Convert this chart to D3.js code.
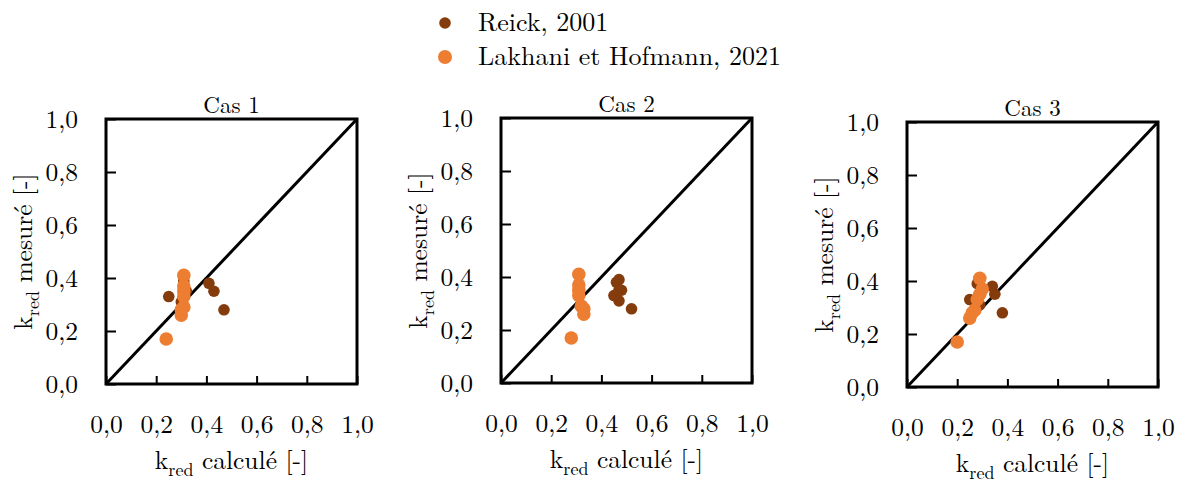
<!DOCTYPE html>
<html>
<head>
<meta charset="utf-8">
<script src="https://d3js.org/d3.v7.min.js"></script>
<style>
  body { margin: 0; background: #fff; }
  svg { font-family: "Latin Modern Roman", "CMU Serif", "Liberation Serif", serif; }
</style>
</head>
<body>
<svg id="chart" width="1181" height="489"></svg>
<script>
// series names and colours
const seriesNames = ['Reick, 2001', 'Lakhani et Hofmann, 2021'];
const seriesColors = ['#843c0c', '#ed7d31'];

// panels
const panelTitles = ['Cas 1', 'Cas 2', 'Cas 3'];
const tickValues = [0, 0.2, 0.4, 0.6, 0.8, 1.0];

// k_red measured (y), shared by all cases
const reickMeasured = [0.39, 0.38, 0.35, 0.35, 0.33, 0.31, 0.28];
const lakhaniMeasured = [0.41, 0.37, 0.35, 0.33, 0.29, 0.28, 0.26, 0.17];

// k_red calculated (x), one list per case
const reickCalc1 = [0.31, 0.41, 0.43, 0.32, 0.25, 0.30, 0.47];
const reickCalc2 = [0.47, 0.46, 0.48, 0.47, 0.45, 0.47, 0.52];
const reickCalc3 = [0.28, 0.34, 0.35, 0.29, 0.25, 0.29, 0.38];

const lakhaniCalc1 = [0.31, 0.31, 0.31, 0.31, 0.31, 0.30, 0.30, 0.24];
const lakhaniCalc2 = [0.31, 0.31, 0.31, 0.31, 0.32, 0.33, 0.33, 0.28];
const lakhaniCalc3 = [0.29, 0.30, 0.29, 0.28, 0.27, 0.26, 0.25, 0.20];

const reickCalc = [reickCalc1, reickCalc2, reickCalc3];
const lakhaniCalc = [lakhaniCalc1, lakhaniCalc2, lakhaniCalc3];

// layout
const panelLeft = [106, 501, 907];
const panelTop = [119, 118, 122];
const pw = 251, ph = 265;
const fmt = d => d3.format('.1f')(d).replace('.', ',');
const serif = '"Latin Modern Roman", "CMU Serif", "Liberation Serif", serif';

const svg = d3.select('#chart');

panelTitles.forEach((title, i) => {
  const g = svg.append('g')
    .attr('transform', `translate(${panelLeft[i]},${panelTop[i]})`);

  const x = d3.scaleLinear().domain([0, 1]).range([0, pw]);
  const y = d3.scaleLinear().domain([0, 1]).range([ph, 0]);

  // axes, ticks pointing inward
  const xAxis = g.append('g')
    .attr('transform', `translate(0,${ph})`)
    .call(d3.axisBottom(x).tickValues(tickValues).tickFormat(fmt)
      .tickSizeInner(-8).tickSizeOuter(0).tickPadding(31));
  const yAxis = g.append('g')
    .call(d3.axisLeft(y).tickValues(tickValues).tickFormat(fmt)
      .tickSizeInner(-10).tickSizeOuter(0).tickPadding(28));

  [xAxis, yAxis].forEach(a => {
    a.select('.domain').remove();
    a.selectAll('line').attr('stroke', '#000').attr('stroke-width', 2);
    a.selectAll('text')
      .attr('fill', '#000')
      .style('font-size', '25.5px')
      .style('font-family', serif);
  });

  // diagonal 1:1 line
  g.append('line')
    .attr('x1', x(0)).attr('y1', y(0))
    .attr('x2', x(1)).attr('y2', y(1))
    .attr('stroke', '#000').attr('stroke-width', 3);

  // points
  const reick = reickCalc[i].map((v, j) => ({ x: v, y: reickMeasured[j] }));
  const lakhani = lakhaniCalc[i].map((v, j) => ({ x: v, y: lakhaniMeasured[j] }));

  g.selectAll('.reick')
    .data(reick)
    .enter()
    .append('circle')
      .attr('class', 'reick')
      .attr('cx', d => x(d.x))
      .attr('cy', d => y(d.y))
      .attr('r', 5.8)
      .attr('fill', seriesColors[0]);

  g.selectAll('.lakhani')
    .data(lakhani)
    .enter()
    .append('circle')
      .attr('class', 'lakhani')
      .attr('cx', d => x(d.x))
      .attr('cy', d => y(d.y))
      .attr('r', 6.8)
      .attr('fill', seriesColors[1]);

  // frame
  g.append('rect')
    .attr('width', pw).attr('height', ph)
    .attr('fill', 'none').attr('stroke', '#000').attr('stroke-width', 3);

  // panel title
  g.append('text')
    .attr('x', pw / 2).attr('y', -6)
    .attr('text-anchor', 'middle')
    .style('font-size', '23px')
    .text(title);

  // x title
  const xt = g.append('text')
    .attr('x', pw / 2).attr('y', ph + 85)
    .attr('text-anchor', 'middle')
    .style('font-size', '25.5px');
  xt.append('tspan').text('k');
  xt.append('tspan').attr('dy', 7).style('font-size', '18px').text('red');
  xt.append('tspan').attr('dy', -7).text(' calculé [-]');

  // y title
  const yt = g.append('text')
    .attr('transform', `translate(-74,${ph / 2}) rotate(-90)`)
    .attr('text-anchor', 'middle')
    .style('font-size', '25.5px');
  yt.append('tspan').text('k');
  yt.append('tspan').attr('dy', 7).style('font-size', '18px').text('red');
  yt.append('tspan').attr('dy', -7).text(' mesuré [-]');
});

// legend
const legend = svg.append('g').attr('transform', 'translate(445,0)');
const legendY = [23, 57];
const legendR = [5.8, 7];
seriesNames.forEach((name, i) => {
  legend.append('circle')
    .attr('cx', 0).attr('cy', legendY[i])
    .attr('r', legendR[i])
    .attr('fill', seriesColors[i]);
  legend.append('text')
    .attr('x', 33).attr('y', legendY[i] + 8)
    .style('font-size', '26px')
    .text(name);
});
</script>
</body>
</html>
